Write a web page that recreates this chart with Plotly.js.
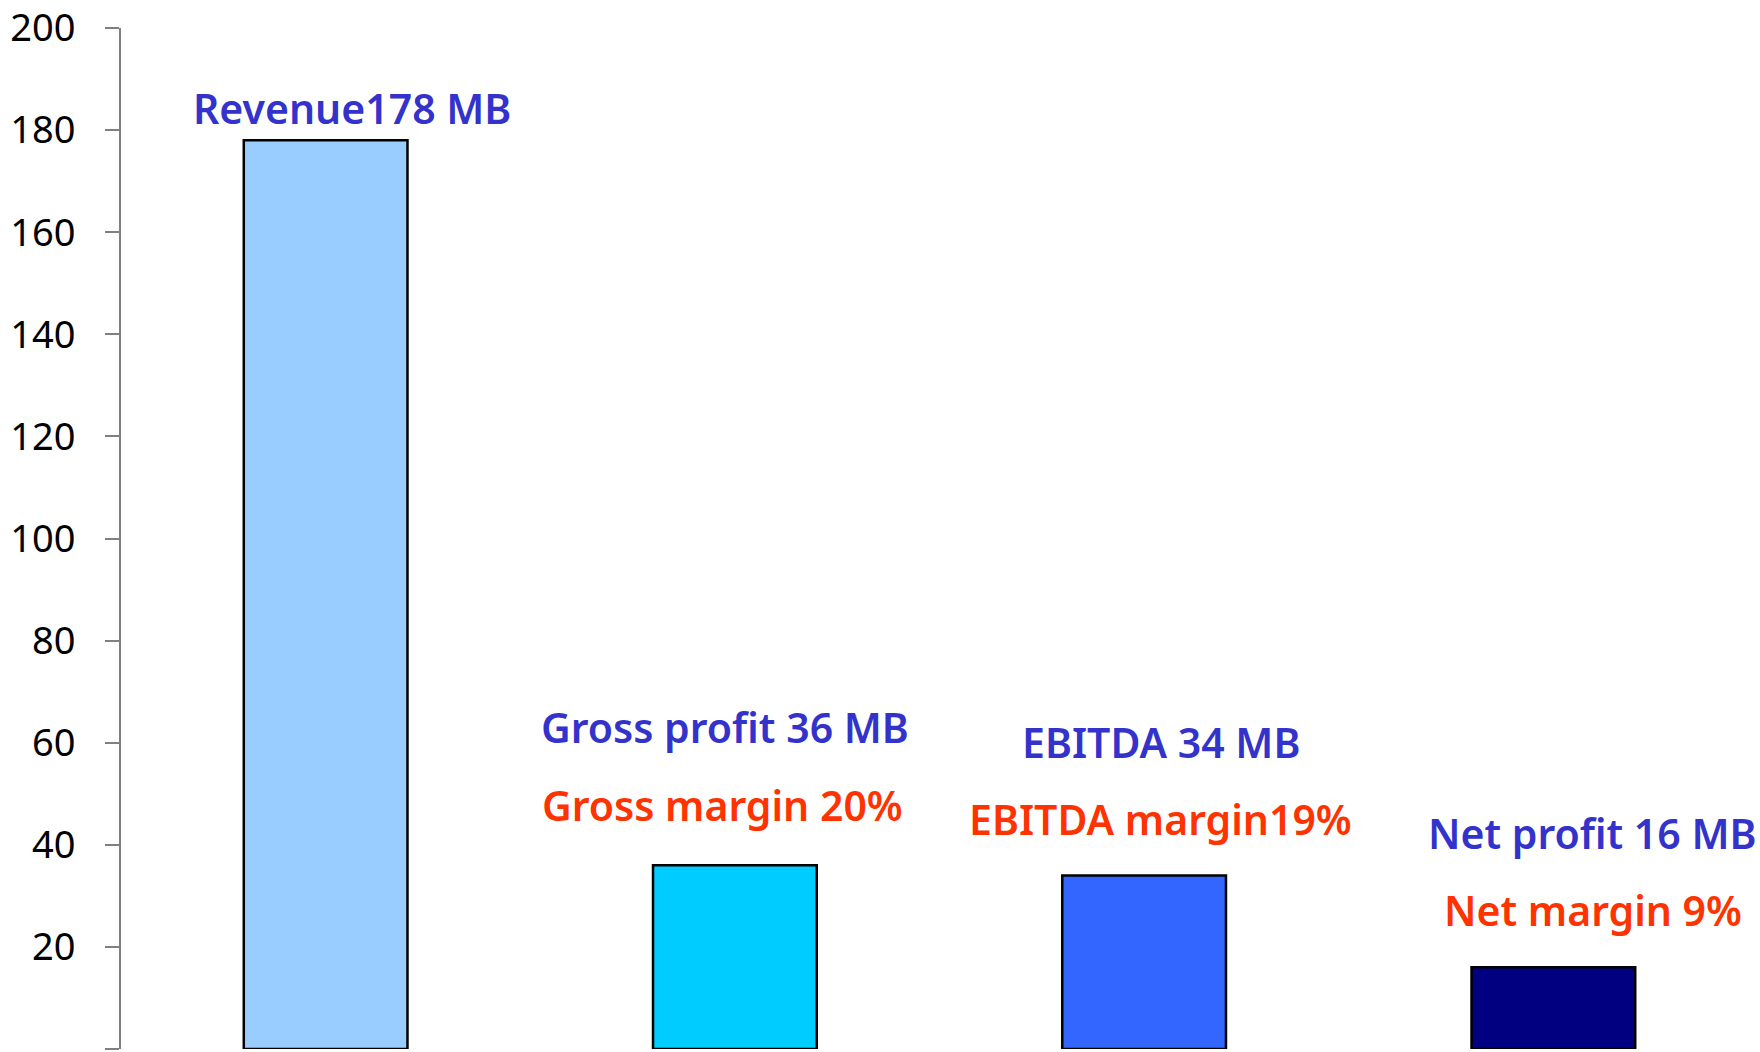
<!DOCTYPE html>
<html>
<head>
<meta charset="utf-8">
<script src="https://cdn.plot.ly/plotly-3.0.1.min.js"></script>
<style>html,body{margin:0;padding:0;background:#fff;}#chart{width:1760px;height:1052px;}</style>
</head>
<body>
<div id="chart"></div>
<script>
// ---- data ----
var categories = ["Revenue", "Gross profit", "EBITDA", "Net profit"];
var values = [178, 36, 34, 16];
var barColors = ["#99CCFF", "#00CCFF", "#3366FF", "#000080"];
var valueLabels = ["Revenue178 MB", "Gross profit 36 MB", "EBITDA 34 MB", "Net profit 16 MB"];
var marginLabels = [null, "Gross margin 20%", "EBITDA margin19%", "Net margin 9%"];
var tickValues = [0, 20, 40, 60, 80, 100, 120, 140, 160, 180, 200];
var tickLabels = ["", "20", "40", "60", "80", "100", "120", "140", "160", "180", "200"];

// ---- label placement (layout only) ----
var valueLabelPos = [[0.064, 184.4], [0.975, 63.1], [2.042, 60.1], [3.096, 42.3]];
var marginLabelPos = [null, [0.970, 47.8], [2.040, 45.1], [3.098, 27.2]];

var annotations = [];
for (var i = 0; i < categories.length; i++) {
  annotations.push({
    x: valueLabelPos[i][0], y: valueLabelPos[i][1], xref: "x", yref: "y",
    text: valueLabels[i], showarrow: false, xanchor: "center", yanchor: "middle",
    font: {family: "Noto Sans", size: 41, color: "#3333CC", weight: 600}
  });
  if (marginLabels[i]) {
    annotations.push({
      x: marginLabelPos[i][0], y: marginLabelPos[i][1], xref: "x", yref: "y",
      text: marginLabels[i], showarrow: false, xanchor: "center", yanchor: "middle",
      font: {family: "Noto Sans", size: 41, color: "#FF3300", weight: 600}
    });
  }
}

var trace = {
  type: "bar",
  x: categories,
  y: values,
  marker: {color: barColors, line: {color: "#000000", width: 2.5}},
  hoverinfo: "skip"
};

var layout = {
  width: 1760, height: 1052,
  margin: {l: 121, r: 2, t: 28, b: 3},
  paper_bgcolor: "#ffffff", plot_bgcolor: "#ffffff",
  showlegend: false,
  bargap: 0.6,
  xaxis: {
    type: "category", range: [-0.5, 3.5],
    showticklabels: false, ticks: "", showline: false, showgrid: false, zeroline: false
  },
  yaxis: {
    range: [0, 200], tickmode: "array", tickvals: tickValues, ticktext: tickLabels,
    ticks: "outside", ticklen: 14, tickwidth: 2, tickcolor: "#808080",
    showline: true, linecolor: "#808080", linewidth: 2,
    showgrid: false, zeroline: false,
    ticklabelstandoff: 22,
    tickfont: {family: "Noto Sans", size: 38, color: "#000000"}
  },
  annotations: annotations
};

Plotly.newPlot("chart", [trace], layout, {staticPlot: true, displayModeBar: false});
</script>
</body>
</html>
